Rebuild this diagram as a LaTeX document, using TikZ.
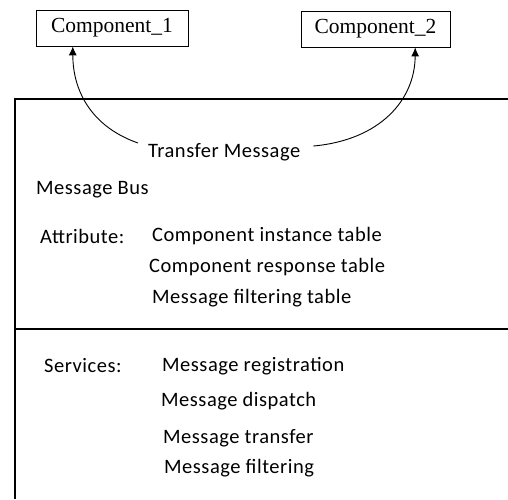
\documentclass[tikz,border=0pt]{standalone}
\usepackage{fontspec}
\setmainfont{Carlito}[LetterSpace=2.5]
\newfontfamily\compfont{Liberation Serif}
\usetikzlibrary{arrows.meta,calc}
\tikzset{
  comp/.style={draw, line width=0.8pt, minimum height=36pt, inner xsep=0pt,
    font=\compfont\fontsize{21.5}{25}\selectfont},
  lbl/.style={anchor=west, inner sep=0pt, font=\fontsize{20.5}{24}\selectfont},
  link/.style={line width=0.9pt, -{Latex[length=9pt,width=8pt]}},
  frame/.style={line width=1.1pt}
}
\begin{document}
\begin{tikzpicture}[x=1pt,y=-1pt]
\useasboundingbox (0,0) rectangle (508,499);
% components
\node[comp, minimum width=152pt] (c1) at (112,28) {Component\_1};
\node[comp, minimum width=149pt] (c2) at (375.5,29) {Component\_2};
% message bus frame
\draw[frame] (508,99) -- (15,99) -- (15,499);
\draw[frame] (15,329) -- (508,329);
% texts
\node[lbl] (tm) at (148,152) {Transfer Message};
\node[lbl] (bus) at (36,190) {Message Bus};
\node[lbl] (attr) at (40,236) {Attribute:};
\node[lbl] (a1) at (152,236) {Component instance table};
\node[lbl] (a2) at (149,267) {Component response table};
\node[lbl] (a3) at (152,298) {Message filtering table};
\node[lbl] (serv) at (44,366) {Services:};
\node[lbl] (s1) at (162,366) {Message registration};
\node[lbl] (s2) at (161,401) {Message dispatch};
\node[lbl] (s3) at (163,438) {Message transfer};
\node[lbl] (s4) at (164,468) {Message filtering};
% transfer arrows
\coordinate (t1) at ($(c1.south west)!0.243!(c1.south east)$);
\coordinate (t2) at ($(c2.south west)!0.765!(c2.south east)$);
\draw[link] ($(tm.west)+(-10,-9)$) .. controls (95,128) and (73,95) .. (t1);
\draw[link] ($(tm.east)+(13,-6)$) .. controls (380,140) and (415,100) .. (t2);
\end{tikzpicture}
\end{document}
